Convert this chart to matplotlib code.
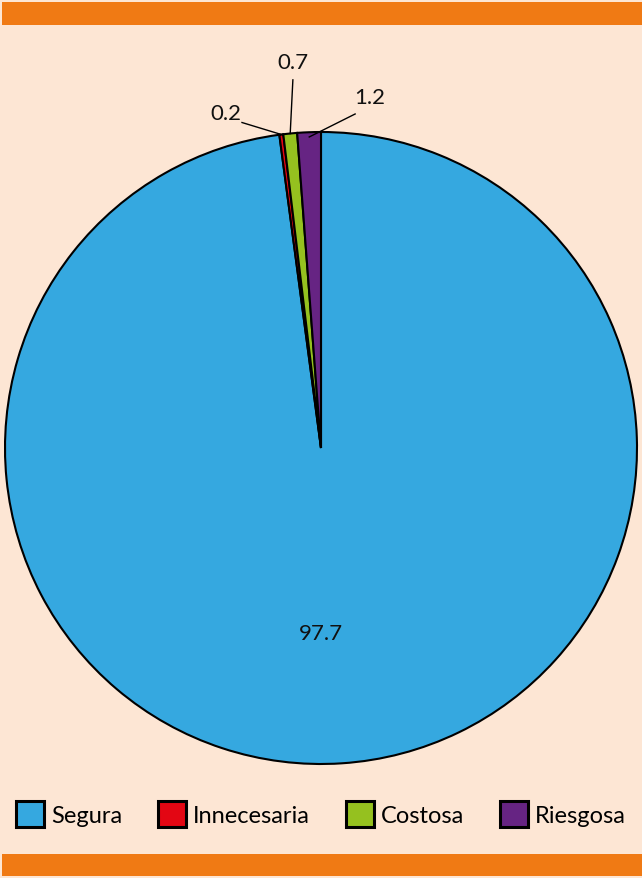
import numpy as np
import matplotlib.pyplot as plt
from matplotlib.patches import Rectangle

# Datos
categorias = ["Segura", "Innecesaria", "Costosa", "Riesgosa"]
valores = [97.7, 0.2, 0.7, 1.2]
etiquetas = ["97.7", "0.2", "0.7", "1.2"]
colores = ["#35A8E0", "#E30613", "#95C11F", "#662483"]

plt.rcParams['font.family'] = ['Lato', 'DejaVu Sans']

fig = plt.figure(figsize=(6.42, 8.79), dpi=100)
fig.patch.set_facecolor("#FDE6D4")

# bandas naranjas arriba y abajo
fig.add_artist(Rectangle((2 / 642, 1 - 26 / 879), 1, 23 / 879, transform=fig.transFigure,
                         color="#F07A14", lw=0))
fig.add_artist(Rectangle((2 / 642, 1 - 877 / 879), 1, 22 / 879, transform=fig.transFigure,
                         color="#F07A14", lw=0))

ax = fig.add_axes([5 / 642, 114 / 879, 632 / 642, 632 / 879])
ax.set_facecolor("none")

wedges, _ = ax.pie(valores, colors=colores, startangle=90, counterclock=False,
                   radius=1, wedgeprops=dict(edgecolor="black", linewidth=1.5))
ax.set_xlim(-1, 1)
ax.set_ylim(-1, 1)
ax.set_aspect("equal")
ax.axis("off")

# etiqueta grande dentro del sector principal
ax.text(0, -0.585, etiquetas[0], ha="center", va="center", fontsize=16, color="#111111")

# etiquetas pequeñas con lineas guia
pos_txt = {1: (-0.30, 1.06), 2: (-0.089, 1.222), 3: (0.155, 1.111)}
ini_lin = {1: (-0.25, 1.03), 2: (-0.089, 1.165), 3: (0.108, 1.057)}
rad_lin = {1: 1.0, 2: 1.0, 3: 0.985}
for i in (1, 2, 3):
    w = wedges[i]
    ang = np.deg2rad((w.theta1 + w.theta2) / 2)
    r = rad_lin[i]
    x0, y0 = ini_lin[i]
    ax.plot([x0, r * np.cos(ang)], [y0, r * np.sin(ang)], color="black", lw=1,
            clip_on=False, zorder=5)
    ax.text(*pos_txt[i], etiquetas[i], ha="center", va="center", fontsize=16,
            color="#111111")

leg = fig.legend(wedges, categorias, loc="center", bbox_to_anchor=(0.5, 1 - 815 / 879),
                 ncol=4, frameon=False, fontsize=17, handlelength=1.2, handleheight=1.3,
                 handletextpad=0.3, columnspacing=1.5, borderaxespad=0)
for h in leg.legend_handles:
    h.set_linewidth(2.2)

fig.savefig("out.png", dpi=100, facecolor=fig.get_facecolor())
